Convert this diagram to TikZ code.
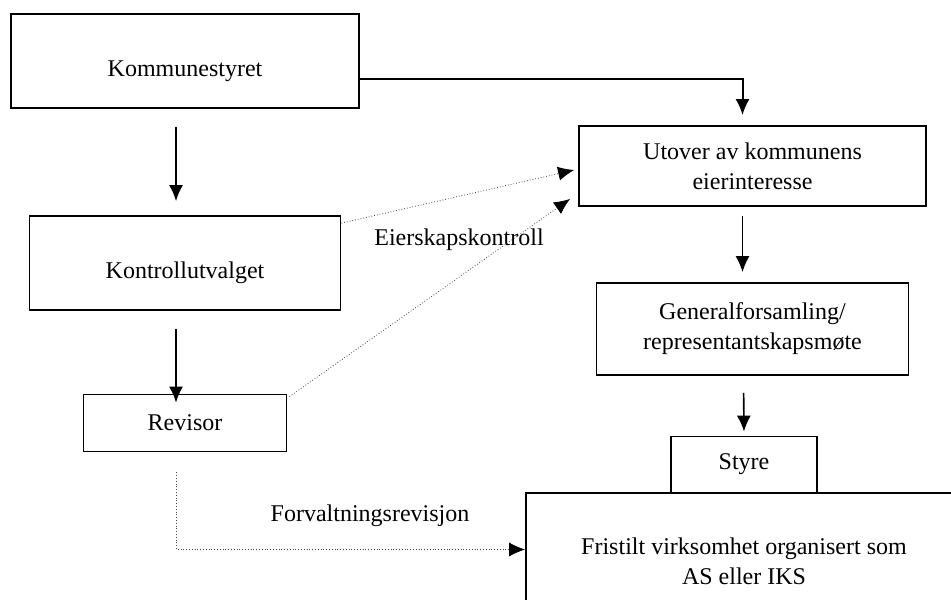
\documentclass[tikz,border=0pt]{standalone}
\usepackage{fontspec}
\setmainfont{Liberation Serif}
\usetikzlibrary{calc, arrows.meta}
\tikzstyle{box}=[draw, line width=0.9pt, align=center, font=\fontsize{12}{15}\selectfont]
\tikzstyle{low}=[text height=17pt, text depth=2pt]
\tikzstyle{lbl}=[font=\fontsize{12}{15}\selectfont]
\tikzstyle{link}=[->, line width=0.8pt]
\tikzstyle{ctrl}=[-{Latex[length=8pt,width=7pt,color=black]}, densely dotted, gray!55!black]

\begin{document}
\begin{tikzpicture}[x=0.5pt,y=-0.5pt,node distance=2cm,>={Latex[length=8pt,width=7pt]}]
      \useasboundingbox (0,0) rectangle (951,599);
      \clip (0,0) rectangle (951,599);

      \node [box, low, minimum width=174pt, minimum height=47pt] (kom) at (185,61) {Kommunestyret};
      \node [box, low, minimum width=155.5pt, minimum height=47pt] (kontroll) [below of=kom, node distance=101pt] {Kontrollutvalget};
      \node [box, minimum width=101.5pt, minimum height=28.5pt] (revisor) [below of=kontroll, node distance=80pt] {Revisor};

      \node [box, minimum width=173.5pt, minimum height=40pt] (utover) at (752.5,166) {Utover av kommunens\\eierinteresse};
      \node [box, minimum width=156pt, minimum height=46pt] (general) [below of=utover, node distance=81.5pt] {Generalforsamling/\\representantskapsmøte};
      \node [box, minimum width=73pt, minimum height=28pt] (styre) at (744,464.5) {Styre};
      \node [box, minimum width=218pt, minimum height=68.5pt] (fristilt) at (744,561.5) {Fristilt virksomhet organisert som\\AS eller IKS};

      \node [lbl] (eier) at (459,240) {Eierskapskontroll};
      \node [lbl] (forv) at (370,516) {Forvaltningsrevisjon};

      \draw[link, line width=1pt, shorten >=5pt] ([yshift=-9pt]kom.east) -| ([xshift=-5pt]utover.north);
      \draw[link, shorten <=9pt, shorten >=7pt] ([xshift=-4.5pt]kom.south) -- ([xshift=-4.5pt]kontroll.north);
      \draw[link, shorten <=9pt, shorten >=-4.5pt] ([xshift=-4.5pt]kontroll.south) -- ([xshift=-4.5pt]revisor.north);
      \draw[link, shorten <=4.5pt, shorten >=5pt] ([xshift=-5pt]utover.south) -- ([xshift=-5pt]general.north);
      \draw[link, shorten <=8.5pt, shorten >=2pt] ([xshift=-4.5pt]general.south) -- (styre.north);

      \draw[ctrl] ([yshift=-4pt]kontroll.north east) -- ([xshift=-2pt,yshift=-2pt]utover.west);
      \draw[ctrl] ([xshift=1pt,yshift=-1.5pt]revisor.north east) -- ([xshift=-4pt,yshift=4pt]utover.south west);
      \draw[ctrl, shorten <=10pt] ([xshift=-4.25pt]revisor.south) |- ([yshift=6pt]fristilt.west);
\end{tikzpicture}
\end{document}
